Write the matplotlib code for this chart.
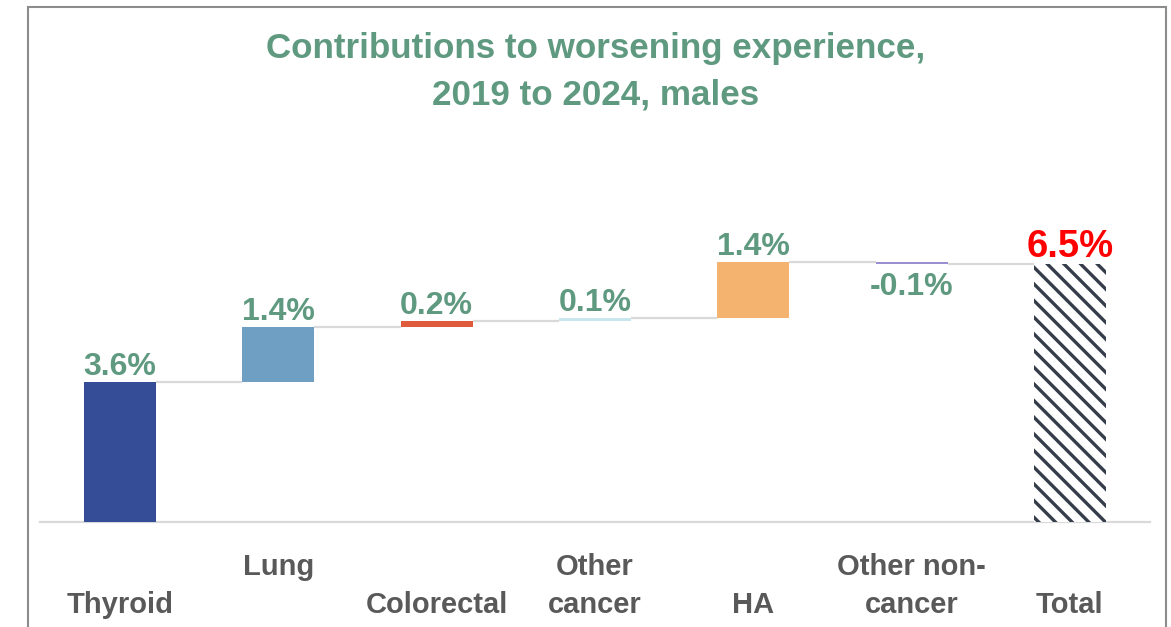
import matplotlib.pyplot as plt
import matplotlib.patches as mpatches
import matplotlib.transforms as mtransforms

# 数据
categories = ["Thyroid", "Lung", "Colorectal", "Other\ncancer", "HA",
              "Other non-\ncancer", "Total"]
steps = [3.53, 1.39, 0.15, 0.08, 1.41, -0.05]
value_labels = ["3.6%", "1.4%", "0.2%", "0.1%", "1.4%", "-0.1%", "6.5%"]
bar_colors = ["#354c96", "#6fa0c4", "#e05a3c", "#c8e6ee", "#f5b370", "#9a8fd0"]
title_lines = ["Contributions to worsening experience,", "2019 to 2024, males"]

font = ["Liberation Sans", "DejaVu Sans"]
green = "#5f9a80"

W, H = 1171, 627
plt.rcParams["hatch.linewidth"] = 2.4
plt.rcParams["hatch.color"] = "#353c4a"

fig = plt.figure(figsize=(W / 100, H / 100), dpi=100)
ax = fig.add_axes([40 / W, 105 / H, 1110 / W, 392 / H])


def fig_y(px):
    """像素（自上而下）转换为 figure 坐标。"""
    return (H - px) / H


# 瀑布图：计算每段起点
bottoms = []
level = 0.0
for s in steps:
    bottoms.append(level if s >= 0 else level + s)
    level += s
total = level
n = len(steps)

width = 0.456
for i, s in enumerate(steps):
    ax.bar(i, abs(s), bottom=bottoms[i], width=width, color=bar_colors[i],
           edgecolor="none", zorder=3)

ax.bar(n, total, width=width, color="white", edgecolor="#353c4a",
       linewidth=0, hatch="\\\\", zorder=3)

# 连接线
level = 0.0
for i, s in enumerate(steps):
    level += s
    ax.plot([i + width / 2, i + 1 - width / 2], [level, level],
            color="#d9d9d9", lw=1.6, zorder=2, solid_capstyle="butt")

# 数值标签
level = 0.0
for i, s in enumerate(steps):
    level += s
    if s >= 0:
        ax.annotate(value_labels[i], (i, level), xytext=(0, 5),
                    textcoords="offset points", ha="center", va="baseline",
                    fontsize=23, fontweight="bold", color=green, family=font)
    else:
        ax.annotate(value_labels[i], (i, level - s), xytext=(0, -24),
                    textcoords="offset points", ha="center", va="baseline",
                    fontsize=23, fontweight="bold", color=green, family=font)
ax.annotate(value_labels[-1], (n, total), xytext=(0, 4.5),
            textcoords="offset points", ha="center", va="baseline",
            fontsize=27.5, fontweight="bold", color="#ff0000", family=font)

# 坐标轴
ax.set_xlim(-0.506, n + 0.506)
ax.set_ylim(0, 392 / 39.7)
for sp in ["top", "right", "left"]:
    ax.spines[sp].set_visible(False)
ax.spines["bottom"].set_color("#d9d9d9")
ax.spines["bottom"].set_linewidth(1.6)
ax.set_xticks([])
ax.set_yticks([])

# 分类标签（错位两行）
trans = mtransforms.blended_transform_factory(ax.transData, fig.transFigure)
for i, c in enumerate(categories):
    lines = c.split("\n")
    first = 575 if i % 2 == 1 else 613
    for k, line in enumerate(lines):
        ax.text(i, fig_y(first + 38 * k), line, transform=trans, ha="center",
                va="baseline", fontsize=21, fontweight="bold",
                color="#595959", family=font)

# 标题
for k, line in enumerate(title_lines):
    fig.text(596 / W, fig_y(58 + 46 * k), line, ha="center", va="baseline",
             fontsize=25.2, fontweight="bold", color=green, family=font)

# 外框
fig.patches.append(mpatches.Rectangle((28 / W, -0.05), (1166 - 28) / W,
                                      1.05 - 7 / H, transform=fig.transFigure,
                                      fill=False, edgecolor="#8c8c8c",
                                      linewidth=1.5))

fig.savefig("out.png", dpi=100)
